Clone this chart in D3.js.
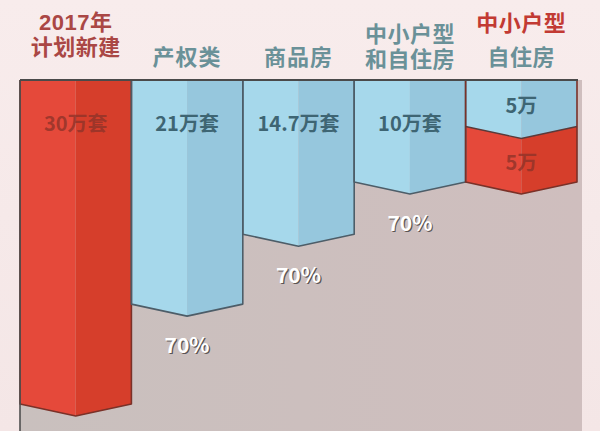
<!DOCTYPE html>
<html><head><meta charset="utf-8">
<script src="https://cdn.jsdelivr.net/npm/d3@7/dist/d3.min.js"></script>
<style>
html,body{margin:0;padding:0;background:#f6eaea;}
svg{display:block;}
text{font-family:"Noto Sans CJK SC","Noto Sans",sans-serif;font-weight:700;}
text.hdr{font-family:"Liberation Sans","Noto Sans CJK SC",sans-serif;font-weight:700;}
</style></head>
<body><svg id="c" width="600" height="431"></svg>
<script>
// ---- data ----
const categories = ["2017年计划新建", "产权类", "商品房", "中小户型和自住房", "中小户型自住房"];
const headerLines = [["2017年", "计划新建"], ["产权类"], ["商品房"], ["中小户型", "和自住房"], ["中小户型", "自住房"]];
const headerRed = [[true, true], [false], [false], [false, false], [true, false]];
const blueValues = [0, 21, 14.7, 10, 5];   // 万套
const redValues = [30, 0, 0, 0, 5];        // 万套
const blueLabels = ["", "21万套", "14.7万套", "10万套", "5万"];
const redLabels = ["30万套", "", "", "", "5万"];
const ratioLabels = ["", "70%", "70%", "70%", ""];

// ---- layout ----
const W = 600, H = 431;
const plotTop = 80, plotLeft = 20, plotRight = 582;
const chevron = 12;
const svg = d3.select("#c");

const x = d3.scaleBand().domain(categories).range([20, 577]).padding(0);
const y = d3.scaleLinear().domain([0, 30]).range([71, 404]);

const rows = categories.map((c, i) => ({cat: c, blue: blueValues[i], red: redValues[i], i}));
const stack = d3.stack().keys(["blue", "red"])(rows);

// background
const defs = svg.append("defs");
const g1 = defs.append("linearGradient").attr("id", "plotg").attr("x1", 0).attr("x2", 1).attr("y1", 0).attr("y2", 0);
g1.append("stop").attr("offset", 0).attr("stop-color", "#c9c0be");
g1.append("stop").attr("offset", 1).attr("stop-color", "#cfbebe");
const g2 = defs.append("linearGradient").attr("id", "bgg").attr("x1", 0).attr("x2", 0).attr("y1", 0).attr("y2", 1);
g2.append("stop").attr("offset", 0).attr("stop-color", "#f8ecec");
g2.append("stop").attr("offset", 1).attr("stop-color", "#f4e6e6");
svg.append("rect").attr("width", W).attr("height", H).attr("fill", "url(#bgg)");
svg.append("rect").attr("x", plotLeft).attr("y", plotTop).attr("width", plotRight - plotLeft).attr("height", H - plotTop).attr("fill", "url(#plotg)");

const palette = {
  blue: {l: "#a6d8eb", r: "#96c7dd", stroke: "#4d5d68", text: "#3e6573"},
  red: {l: "#e5493a", r: "#d63e2b", stroke: "#7a3128", text: "#8e3329"}
};

const segs = [];
stack.forEach(layer => {
  layer.forEach((d, i) => {
    if (d[1] - d[0] <= 0) return;
    const x0 = x(categories[i]), x1 = x0 + x.bandwidth(), xc = (x0 + x1) / 2;
    const topSide = d[0] === 0 ? plotTop : y(d[0]);
    const topCenter = d[0] === 0 ? plotTop : y(d[0]) + chevron;
    const botSide = y(d[1]), botCenter = y(d[1]) + chevron;
    segs.push({key: layer.key, i, x0, x1, xc, topSide, topCenter, botSide, botCenter});
  });
});

const bars = svg.append("g");
segs.forEach(s => {
  const p = palette[s.key];
  bars.append("path")
    .attr("d", `M${s.x0},${s.topSide}L${s.xc},${s.topCenter}L${s.xc},${s.botCenter}L${s.x0},${s.botSide}Z`)
    .attr("fill", p.l);
  bars.append("path")
    .attr("d", `M${s.xc},${s.topCenter}L${s.x1},${s.topSide}L${s.x1},${s.botSide}L${s.xc},${s.botCenter}Z`)
    .attr("fill", p.r);
});
// outlines: sides + chevron bottom of each full bar
rows.forEach((r, i) => {
  const total = r.blue + r.red;
  const x0 = x(categories[i]), x1 = x0 + x.bandwidth(), xc = (x0 + x1) / 2;
  const key = r.red > 0 ? "red" : "blue";
  bars.append("path")
    .attr("d", `M${x0},${plotTop}L${x0},${y(total)}L${xc},${y(total) + chevron}L${x1},${y(total)}L${x1},${plotTop}`)
    .attr("fill", "none").attr("stroke", palette[key].stroke).attr("stroke-width", 1.6).attr("stroke-linejoin", "round");
});
// inner boundary between stacked segments
segs.filter(s => s.key === "blue").forEach(s => {
  if (redValues[s.i] > 0) {
    bars.append("path")
      .attr("d", `M${s.x0},${s.botSide}L${s.xc},${s.botCenter}L${s.x1},${s.botSide}`)
      .attr("fill", "none").attr("stroke", "#5a3a3a").attr("stroke-width", 1.4);
  }
});
// plot left edge & top border
svg.append("line").attr("x1", plotLeft).attr("x2", plotLeft).attr("y1", plotTop).attr("y2", H).attr("stroke", "#4f4f4f").attr("stroke-width", 1.6);
svg.append("line").attr("x1", plotLeft).attr("x2", 578).attr("y1", plotTop).attr("y2", plotTop).attr("stroke", "#4a4a4a").attr("stroke-width", 2);

// value labels in segments
segs.forEach(s => {
  const lbl = s.key === "blue" ? blueLabels[s.i] : redLabels[s.i];
  if (!lbl) return;
  const t = s.topCenter, b = s.botSide;
  const cy = Math.min(t + 42, (t + b) / 2 + 1);
  svg.append("text").attr("x", s.xc).attr("y", cy).attr("text-anchor", "middle").attr("dominant-baseline", "central")
    .attr("font-size", 20).attr("fill", palette[s.key].text).attr("fill-opacity", s.key === "red" ? 0.8 : 1).text(lbl);
});

// ratio labels below bars
rows.forEach((r, i) => {
  if (!ratioLabels[i]) return;
  const xc = x(categories[i]) + x.bandwidth() / 2;
  const cy = y(r.blue + r.red) + chevron + 28;
  svg.append("text").attr("x", xc + 1.2).attr("y", cy + 1.2).attr("text-anchor", "middle").attr("dominant-baseline", "central")
    .attr("font-size", 21).attr("fill", "#5a5454").text(ratioLabels[i]);
  svg.append("text").attr("x", xc).attr("y", cy).attr("text-anchor", "middle").attr("dominant-baseline", "central")
    .attr("font-size", 21).attr("fill", "#ffffff").text(ratioLabels[i]);
});

// header labels
const headerY2 = [[22, 47], [57], [57], [34, 59], [23, 57]];
headerLines.forEach((lines, i) => {
  const xc = x(categories[i]) + x.bandwidth() / 2;
  lines.forEach((ln, j) => {
    const red = headerRed[i][j];
    svg.append("text").attr("class", "hdr").attr("x", xc).attr("y", headerY2[i][j] + 8)
      .attr("text-anchor", "middle").attr("font-size", 22)
      .attr("letter-spacing", i === 0 || i === 3 || i === 4 ? 0.5 : 1)
      .attr("fill", red ? (i === 0 ? "#aa4745" : "#c23a33") : "#6a9198").text(ln);
  });
});
</script></body></html>
